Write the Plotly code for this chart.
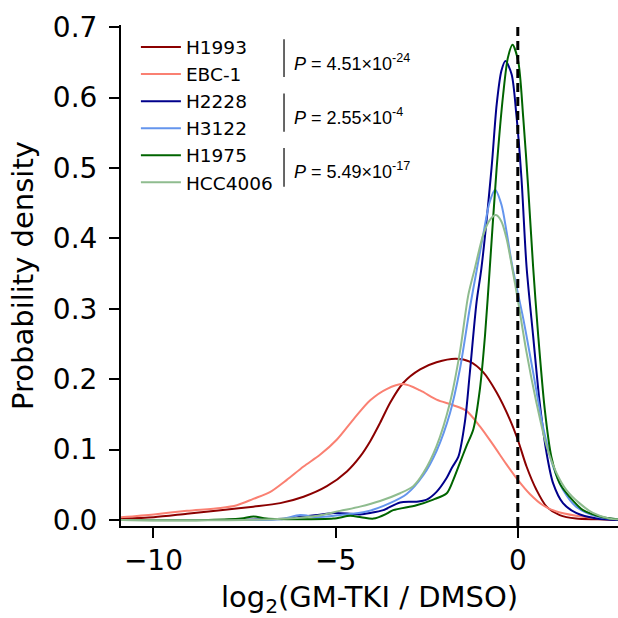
import plotly.graph_objects as go

# ---- data ----
names = ["H1993", "EBC-1", "H2228", "H3122", "H1975", "HCC4006"]
colors = ["#8B0000", "#FA8072", "#00008B", "#6495ED", "#006400", "#8FBC8F"]

h1993_x = [-10.89, -9.99, -9.08, -8.16, -7.26, -6.52, -5.88, -5.24, -4.69, -4.33, -4.05, -3.78, -3.5, -3.14,
           -2.68, -2.23, -1.70, -1.32, -0.95, -0.58, -0.22, 0.0, 0.24, 0.51, 0.79, 1.15, 1.6, 2.2, 2.75]
h1993_y = [0.002, 0.004, 0.009, 0.014, 0.019, 0.024, 0.033, 0.048, 0.069, 0.090, 0.112, 0.138, 0.167, 0.195,
           0.214, 0.224, 0.229, 0.225, 0.21, 0.181, 0.143, 0.114, 0.076, 0.043, 0.019, 0.007, 0.002, 0.001, 0.0]

ebc1_x = [-10.89, -9.99, -9.08, -8.16, -7.71, -7.26, -6.79, -6.34, -5.88, -5.42, -4.97, -4.51, -4.05, -3.6,
          -3.14, -2.68, -2.23, -1.77, -1.41, -1.04, -0.68, -0.31, 0.0, 0.33, 0.69, 1.06, 1.6, 2.33, 2.75]
ebc1_y = [0.004, 0.008, 0.013, 0.017, 0.021, 0.030, 0.040, 0.057, 0.076, 0.093, 0.114, 0.143, 0.170, 0.186,
          0.193, 0.184, 0.171, 0.163, 0.155, 0.133, 0.107, 0.079, 0.057, 0.037, 0.021, 0.012, 0.006, 0.002, 0.001]

h2228_x = [-10.89, -8.0, -6.8, -6.34, -5.9, -5.5, -5.06, -4.6, -4.33, -4.05, -3.69, -3.23, -2.78, -2.5, -2.23,
           -1.95, -1.8, -1.63, -1.45, -1.32, -1.13, -1.0, -0.72, -0.58, -0.45, -0.34, -0.17, -0.04, 0.1, 0.24,
           0.42, 0.6, 0.79, 0.97, 1.24, 1.6, 2.16, 2.75]
h2228_y = [0.0, 0.0, 0.001, 0.002, 0.005, 0.007, 0.010, 0.009, 0.008, 0.010, 0.014, 0.025, 0.026, 0.029, 0.040,
           0.060, 0.075, 0.090, 0.140, 0.207, 0.31, 0.357, 0.5, 0.59, 0.638, 0.652, 0.633, 0.576, 0.486, 0.36,
           0.262, 0.167, 0.095, 0.052, 0.024, 0.010, 0.002, 0.0]

h3122_x = [-10.89, -7.5, -6.52, -5.97, -5.5, -4.88, -4.15, -3.51, -3.05, -2.59, -2.23, -1.86, -1.59, -1.32,
           -1.12, -0.95, -0.77, -0.62, -0.45, -0.31, -0.15, 0.15, 0.42, 0.69, 0.97, 1.24, 1.6, 2.16, 2.75]
h3122_y = [0.0, 0.0, 0.001, 0.007, 0.004, 0.007, 0.012, 0.024, 0.037, 0.064, 0.098, 0.152, 0.214, 0.300,
           0.357, 0.405, 0.452, 0.469, 0.448, 0.41, 0.36, 0.286, 0.21, 0.133, 0.076, 0.043, 0.019, 0.005, 0.001]

h1975_x = [-10.89, -8.5, -7.6, -7.25, -6.9, -6.0, -5.06, -4.6, -4.3, -3.96, -3.6, -3.42, -2.78, -2.32, -1.95,
           -1.77, -1.59, -1.41, -1.22, -1.04, -0.9, -0.77, -0.58, -0.4, -0.27, -0.145, 0.01, 0.15, 0.28, 0.42,
           0.56, 0.74, 0.92, 1.15, 1.42, 1.79, 2.34, 2.75]
h1975_y = [0.0, 0.0, 0.002, 0.005, 0.002, 0.001, 0.002, 0.006, 0.004, 0.002, 0.009, 0.014, 0.021, 0.029, 0.038,
           0.057, 0.081, 0.105, 0.129, 0.186, 0.262, 0.357, 0.5, 0.605, 0.657, 0.675, 0.652, 0.571, 0.476, 0.36,
           0.262, 0.157, 0.090, 0.052, 0.033, 0.014, 0.004, 0.001]

hcc4006_x = [-10.89, -7.5, -6.3, -5.5, -4.88, -4.33, -3.78, -3.23, -2.87, -2.59, -2.23, -1.86, -1.59,
             -1.36, -1.18, -0.95, -0.77, -0.6, -0.45, -0.31, -0.15, 0.01, 0.24, 0.51, 0.79, 1.06, 1.33, 1.69,
             2.06, 2.52, 2.75]
hcc4006_y = [0.0, 0.0, 0.002, 0.006, 0.013, 0.019, 0.027, 0.038, 0.048, 0.067, 0.105, 0.167, 0.238,
             0.319, 0.357, 0.405, 0.426, 0.433, 0.424, 0.40, 0.357, 0.31, 0.238, 0.167, 0.105, 0.067, 0.043, 0.024,
             0.010, 0.002, 0.001]

series_x = [h1993_x, ebc1_x, h2228_x, h3122_x, h1975_x, hcc4006_x]
series_y = [h1993_y, ebc1_y, h2228_y, h3122_y, h1975_y, hcc4006_y]

p_texts = ["4.51×10<sup>-24</sup>", "2.55×10<sup>-4</sup>", "5.49×10<sup>-17</sup>"]

x_ticks = [-10, -5, 0]
y_ticks = [0.0, 0.1, 0.2, 0.3, 0.4, 0.5, 0.6, 0.7]

# ---- figure ----
fig = go.Figure()
for nm, col, xs, ys in zip(names, colors, series_x, series_y):
    fig.add_trace(go.Scatter(x=xs, y=ys, mode="lines", name=nm,
                             line=dict(color=col, width=2, shape="spline", smoothing=0.8)))

fig.add_shape(type="line", xref="x", yref="paper", x0=0, x1=0, y0=0, y1=1,
              line=dict(color="black", width=3, dash="9px,5px"), layer="above")

# P-value brackets (paper coords)
bar_y = [(0.9717, 0.8960), (0.8633, 0.7870), (0.7545, 0.6770)]
txt_y = [0.9246, 0.8170, 0.7100]
for (y0, y1), ty, pt in zip(bar_y, txt_y, p_texts):
    fig.add_shape(type="line", xref="paper", yref="paper", x0=0.3280, x1=0.3280, y0=y0, y1=y1,
                  line=dict(color="black", width=1.2))
    fig.add_annotation(xref="paper", yref="paper", x=0.3440, y=ty, xanchor="left", yanchor="middle",
                       text="<i>P</i> = " + pt, showarrow=False,
                       font=dict(family="Liberation Sans", size=18, color="black"))

axis_font = dict(family="DejaVu Sans", size=28, color="black")
fig.update_layout(
    width=618, height=618,
    margin=dict(l=121, r=0, t=25, b=92),
    paper_bgcolor="white", plot_bgcolor="white",
    font=dict(family="DejaVu Sans", color="black"),
    showlegend=True,
    legend=dict(x=0.030, y=0.993, xanchor="left", yanchor="top", bgcolor="rgba(0,0,0,0)",
                font=dict(family="DejaVu Sans", size=18.5, color="black"), tracegroupgap=0, itemwidth=40),
    xaxis=dict(range=[-10.89, 2.75], tickvals=x_ticks, ticks="outside", ticklen=10, tickwidth=1.5,
               tickcolor="black", showline=True, linewidth=2, linecolor="black", showgrid=False,
               zeroline=False, tickfont=axis_font, ticklabelstandoff=-2, automargin=False,
               title=dict(text="log<sub>2</sub>(GM-TKI / DMSO)", font=dict(family="DejaVu Sans", size=29),
                          standoff=19)),
    yaxis=dict(range=[-0.0085, 0.703], tickvals=y_ticks, tickformat=".1f", ticks="outside", ticklen=10,
               tickwidth=1.5, tickcolor="black", showline=True, linewidth=2, linecolor="black",
               showgrid=False, zeroline=False, tickfont=axis_font, ticklabelstandoff=6, automargin=False,
               title=dict(text="Probability density", font=dict(family="DejaVu Sans", size=29), standoff=11)),
)

fig.write_html("out.html", config={"displayModeBar": False},
               post_script="document.body.style.margin='0px';")
